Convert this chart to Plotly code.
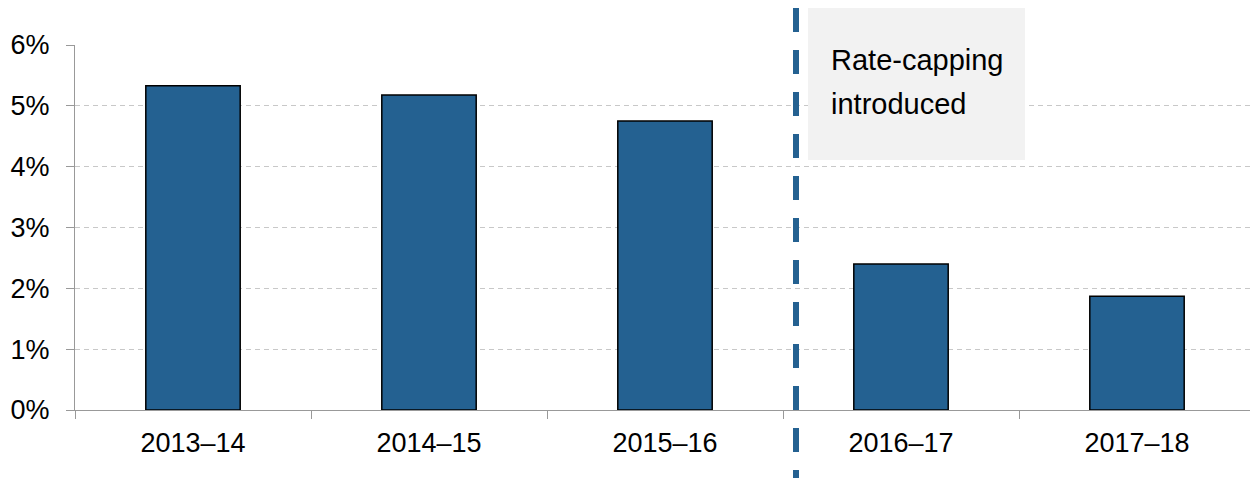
import plotly.graph_objects as go

categories = ["2013–14", "2014–15", "2015–16", "2016–17", "2017–18"]
values = [5.33, 5.18, 4.75, 2.40, 1.87]
y_ticks = [0, 1, 2, 3, 4, 5, 6]
y_tick_labels = [f"{t}%" for t in y_ticks]

# page body has an 8px margin: size figure so it fills the 1258x478 window
OFF = 8
W, H = 1258 - OFF, 478 - OFF
L, R, T, B = 75 - OFF, 3, 45 - OFF, 68
pw, ph = W - L - R, H - T - B

def px_x(x):
    return (x - OFF - L) / pw

def px_y(y):
    return (H - B - (y - OFF)) / ph

bar_color = "#246191"
font = "Liberation Sans, Arial, sans-serif"

fig = go.Figure()
fig.add_trace(go.Bar(
    x=categories, y=values,
    marker=dict(color=bar_color, line=dict(color="black", width=1.5)),
    width=0.4,
))

fig.update_layout(
    width=W, height=H,
    margin=dict(l=L, r=R, t=T, b=B, pad=0),
    paper_bgcolor="white", plot_bgcolor="white",
    showlegend=False,
    font=dict(family=font, size=27, color="black"),
    xaxis=dict(
        type="category", tickson="boundaries", ticks="outside", ticklen=8,
        tickcolor="#999999", showline=True, linecolor="#999999", linewidth=1,
        showgrid=False, tickfont=dict(size=27), ticklabelstandoff=9,
    ),
    yaxis=dict(
        range=[0, 6], tickvals=y_ticks, ticktext=y_tick_labels,
        ticks="outside", ticklen=8, tickcolor="#999999",
        showline=True, linecolor="#999999", linewidth=1,
        showgrid=True, gridcolor="#c8c8c8", griddash="5px,4px", gridwidth=1,
        zeroline=False, tickfont=dict(size=27), ticklabelstandoff=11,
    ),
)

# annotation box
fig.add_shape(type="rect", xref="paper", yref="paper",
              x0=px_x(808), x1=px_x(1025), y0=px_y(160), y1=px_y(8),
              fillcolor="#f2f2f2", line=dict(width=0), layer="above")
# dashed vertical marker
fig.add_shape(type="line", xref="paper", yref="paper",
              x0=px_x(796), x1=px_x(796), y0=px_y(8), y1=px_y(480),
              line=dict(color=bar_color, width=6, dash="24px,18px"), layer="above")

for txt, yc in [("Rate-capping", 60), ("introduced", 104)]:
    fig.add_annotation(xref="paper", yref="paper", x=px_x(829), y=px_y(yc),
                       text=txt, showarrow=False, xanchor="left", yanchor="middle",
                       font=dict(family=font, size=29, color="black"))

fig.write_html("out.html")
